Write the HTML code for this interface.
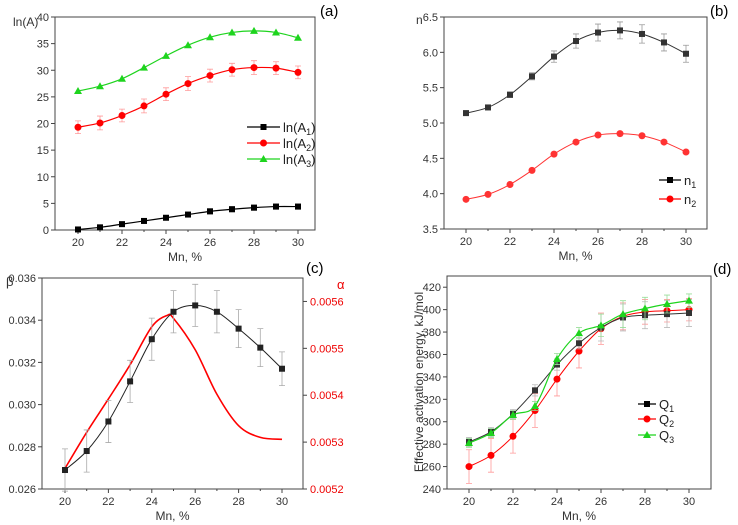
<!DOCTYPE html>
<html><head><meta charset="utf-8"><style>
body{margin:0;background:#fff;}
svg{display:block;font-family:"Liberation Sans",sans-serif;}
</style></head><body>
<svg id="fig" width="738" height="525" viewBox="0 0 738 525"></svg>
<script>
const xCats=[20,21,22,23,24,25,26,27,28,29,30];
const xTicks=[20,22,24,26,28,30];
// panel a
const lnA1=[0.1,0.5,1.1,1.7,2.3,2.9,3.5,3.9,4.2,4.4,4.4];
const lnA2=[19.3,20.1,21.5,23.3,25.5,27.5,29.0,30.1,30.5,30.4,29.6];
const lnA3=[26.1,27.0,28.4,30.5,32.7,34.7,36.2,37.1,37.4,37.1,36.1];
const errA1=[0.4,0.4,0.4,0.4,0.4,0.4,0.5,0.5,0.5,0.5,0.5];
const errA2=[1.2,1.3,1.2,1.3,1.2,1.3,1.2,1.2,1.3,1.2,1.2];
const ticksA=[0,5,10,15,20,25,30,35,40];
// panel b
const n1=[5.14,5.22,5.40,5.66,5.94,6.16,6.28,6.31,6.26,6.14,5.98];
const n2=[3.92,3.99,4.13,4.33,4.56,4.73,4.83,4.85,4.82,4.73,4.59];
const errN1=[0.03,0.03,0.04,0.05,0.08,0.1,0.12,0.12,0.13,0.12,0.12];
const ticksB=[3.5,4.0,4.5,5.0,5.5,6.0,6.5];
// panel c
const beta=[0.0269,0.0278,0.0292,0.0311,0.0331,0.0344,0.0347,0.0344,0.0336,0.0327,0.0317];
const errBeta=[0.001,0.001,0.001,0.001,0.001,0.001,0.001,0.001,0.0009,0.0009,0.0008];
const alphaX=[20,21,22,23,24,24.7,25,26,27,28,29,30];
const alpha=[0.005244,0.005321,0.005392,0.005465,0.005546,0.00557,0.005564,0.005497,0.005402,0.005335,0.00531,0.005306];
const ticksBeta=[0.026,0.028,0.030,0.032,0.034,0.036];
const ticksAlpha=[0.0052,0.0053,0.0054,0.0055,0.0056];
// panel d
const Q1=[282,291,307,328,351,370,384,393,395,396,397];
const Q2=[260,270,287,310,338,363,383,394,398,399,400];
const Q3=[281,290,306,314,356,379,386,396,401,405,408];
const errQ1=[4,4,4,5,5,5,12,12,12,12,12];
const errQ2=[15,15,15,15,15,15,14,12,11,10,10];
const errQ3=[4,4,4,4,5,5,10,12,10,8,6];
const ticksD=[240,260,280,300,320,340,360,380,400,420];

const NS="http://www.w3.org/2000/svg";
const svg=document.getElementById('fig');
function mk(tag,attrs,parent,name){const e=document.createElementNS(NS,tag);for(const k in attrs)e.setAttribute(k,attrs[k]);(parent||svg).appendChild(e);


return e;}
function txt(s,x,y,opt,parent,name){const t=mk('text',Object.assign({x:x,y:y,'font-size':11,fill:'#333'},opt||{}),parent,name);t.textContent=s;return t;}
function spline(pts){let d='M'+pts[0][0]+','+pts[0][1];for(let i=0;i<pts.length-1;i++){const p0=pts[Math.max(0,i-1)],p1=pts[i],p2=pts[i+1],p3=pts[Math.min(pts.length-1,i+2)];
const c1=[p1[0]+(p2[0]-p0[0])/6,p1[1]+(p2[1]-p0[1])/6],c2=[p2[0]-(p3[0]-p1[0])/6,p2[1]-(p3[1]-p1[1])/6];d+=' C'+c1+' '+c2+' '+p2;}return d;}

function panel(o){
 const g=mk('g',{},svg,o.name);
 const sx=v=>o.x20+(v-20)*(o.x30-o.x20)/10;
 const sy=v=>o.B-(v-o.ymin)*(o.B-o.T)/(o.ymax-o.ymin);
 mk('rect',{x:o.L,y:o.T,width:o.R-o.L,height:o.B-o.T,fill:'none',stroke:'#444','stroke-width':1},g,'plot-frame');
 xTicks.forEach(v=>{mk('line',{x1:sx(v),x2:sx(v),y1:o.B,y2:o.B+4,stroke:'#444'},g,'x-tick');txt(v,sx(v),o.B+16,{'text-anchor':'middle'},g,'x-tick-label');});
 xCats.forEach(v=>{if(v%2)mk('line',{x1:sx(v),x2:sx(v),y1:o.B,y2:o.B+2,stroke:'#444'},g,'x-minor-tick');});
 o.yt.forEach(v=>{mk('line',{x1:o.L-4,x2:o.L,y1:sy(v),y2:sy(v),stroke:'#444'},g,'y-tick');txt(o.fmt(v),o.L-6,sy(v)+4,{'text-anchor':'end'},g,'y-tick-label');});
 txt('Mn, %',(o.L+o.R)/2,o.B+31,{'text-anchor':'middle','font-size':12},g,'x-axis-title');
 txt(o.tag,o.tagx,o.tagy,{'font-size':15,fill:'#000'},g,'panel-label');
 o.series.forEach(s=>{
  const sg=mk('g',{},g,s.name);
  if(s.err)s.vals.forEach((v,i)=>{const x=sx(xCats[i]);mk('path',{d:`M${x},${sy(v-s.err[i])}V${sy(v+s.err[i])}M${x-3},${sy(v-s.err[i])}h6M${x-3},${sy(v+s.err[i])}h6`,stroke:s.ec,'stroke-width':0.8,fill:'none'},sg,'error-bar');});
  const xs=s.xs||xCats; const syy=s.sy||sy;
  mk('path',{d:spline(s.vals.map((v,i)=>[sx(xs[i]),syy(v)])),fill:'none',stroke:s.c,'stroke-width':s.w||1.2},sg,'line');
  if(s.m)s.vals.forEach((v,i)=>marker(s.m,sx(xs[i]),syy(v),s.c,sg));
 });
 return {g,sx,sy};
}
function marker(m,x,y,c,p){
 if(m==='s')mk('rect',{x:x-3,y:y-3,width:6,height:6,fill:c},p,'marker-square');
 else if(m==='c')mk('circle',{cx:x,cy:y,r:3.5,fill:c},p,'marker-circle');
 else mk('path',{d:`M${x},${y-4}L${x+4},${y+3}L${x-4},${y+3}Z`,fill:c},p,'marker-triangle');
}
function legend(items,x1,x2,ys,p){items.forEach((it,i)=>{const lg=mk('g',{},p,'legend-entry');mk('line',{x1:x1,x2:x2,y1:ys[i],y2:ys[i],stroke:it.c,'stroke-width':1.2},lg,'legend-line');marker(it.m,(x1+x2)/2,ys[i],it.c,lg);
 const t=txt('',x2+3,ys[i]+5,{'font-size':13,fill:'#222'},lg,'legend-label');t.innerHTML=it.t;});}

const BK='#000',RD='#f00',GR='#1ed41e';
// (a)
const pa=panel({name:'panel-a',L:55,R:315,T:17,B:230,x20:78,x30:298,ymin:0,ymax:40,yt:ticksA,fmt:v=>v,tag:'(a)',tagx:320,tagy:16,
 series:[{name:'series-lnA1',vals:lnA1,err:errA1,ec:'#999',c:BK,m:'s'},{name:'series-lnA2',vals:lnA2,err:errA2,ec:'#f99',c:RD,m:'c'},{name:'series-lnA3',vals:lnA3,c:GR,m:'t'}]});
txt('ln(A)',13,26,{'font-size':12},pa.g,'y-axis-title');
legend([{c:BK,m:'s',t:'ln(A<tspan font-size="9" dy="3">1</tspan><tspan dy="-3">)</tspan>'},{c:RD,m:'c',t:'ln(A<tspan font-size="9" dy="3">2</tspan><tspan dy="-3">)</tspan>'},{c:GR,m:'t',t:'ln(A<tspan font-size="9" dy="3">3</tspan><tspan dy="-3">)</tspan>'}],247,280,[127,143,159],pa.g);
// (b)
const pb=panel({name:'panel-b',L:444,R:707,T:17,B:229,x20:466,x30:686,ymin:3.5,ymax:6.5,yt:ticksB,fmt:v=>v.toFixed(1),tag:'(b)',tagx:710,tagy:16,
 series:[{name:'series-n1',vals:n1,err:errN1,ec:'#999',c:'#333',m:'s',w:1},{name:'series-n2',vals:n2,c:'#f33',m:'c',w:1}]});
txt('n',416,24,{'font-size':12},pb.g,'y-axis-title');
legend([{c:BK,m:'s',t:'n<tspan font-size="9" dy="3">1</tspan>'},{c:RD,m:'c',t:'n<tspan font-size="9" dy="3">2</tspan>'}],659,681,[180,199],pb.g);
// (c)
const aMin=0.0052,aMax=0.00565,cT=278,cB=489;
const syA=v=>cB-(v-aMin)*(cB-cT)/(aMax-aMin);
const pc=panel({name:'panel-c',L:42,R:303,T:278,B:489,x20:65,x30:282,ymin:0.026,ymax:0.036,yt:ticksBeta,fmt:v=>v.toFixed(3),tag:'(c)',tagx:306,tagy:273,
 series:[{name:'series-alpha',vals:alpha,xs:alphaX,sy:syA,c:RD,w:1.6},{name:'series-beta',vals:beta,err:errBeta,ec:'#aaa',c:'#222',m:'s',w:1}]});
ticksAlpha.forEach(v=>{mk('line',{x1:303,x2:307,y1:syA(v),y2:syA(v),stroke:'#444'},pc.g,'y2-tick');txt(v.toFixed(4),310,syA(v)+4,{fill:'#e00'},pc.g,'y2-tick-label');});
txt('β',6,286,{'font-size':13},pc.g,'y-axis-title');
txt('α',337,289,{'font-size':13,fill:'#e00'},pc.g,'y2-axis-title');
// (d)
const pd=panel({name:'panel-d',L:447,R:711,T:276,B:489,x20:469,x30:689,ymin:240,ymax:430,yt:ticksD,fmt:v=>v,tag:'(d)',tagx:713,tagy:274,
 series:[{name:'series-Q2',vals:Q2,err:errQ2,ec:'#f99',c:RD,m:'c',w:1},{name:'series-Q1',vals:Q1,err:errQ1,ec:'#bbb',c:'#333',m:'s',w:1},{name:'series-Q3',vals:Q3,err:errQ3,ec:'#9d9',c:GR,m:'t',w:1.2}]});
txt('Effective activation energy, kJ/mol',0,0,{'font-size':12,'text-anchor':'middle',transform:'translate(423,382) rotate(-90)'},pd.g,'y-axis-title');
legend([{c:BK,m:'s',t:'Q<tspan font-size="9" dy="3">1</tspan>'},{c:RD,m:'c',t:'Q<tspan font-size="9" dy="3">2</tspan>'},{c:GR,m:'t',t:'Q<tspan font-size="9" dy="3">3</tspan>'}],638,656,[404,419,435],pd.g);
</script>
</body></html>
